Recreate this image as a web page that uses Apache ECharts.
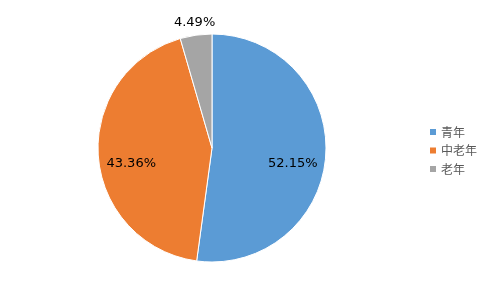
<!DOCTYPE html>
<html>
<head>
<meta charset="utf-8">
<script src="https://cdn.jsdelivr.net/npm/echarts@6/dist/echarts.min.js"></script>
<style>html,body{margin:0;padding:0;background:#fff;}#c{width:489px;height:297px;}</style>
</head>
<body>
<div id="c"></div>
<script>
const categories = ['青年', '中老年', '老年'];
const values = [52.15, 43.36, 4.49];
const colors = ['#5B9BD5', '#ED7D31', '#A5A5A5'];

const chart = echarts.init(document.getElementById('c'), null, {renderer: 'canvas'});
const mainData = categories.map((n, i) => ({name: n, value: values[i], itemStyle: {color: colors[i]}}));
const fmt = p => p.value.toFixed(2) + '%';
const labelFont = {fontFamily: 'DejaVu Sans', fontSize: 13, color: '#000'};
const clear = {color: 'rgba(0,0,0,0)', borderWidth: 0};

chart.setOption({
  animation: false,
  legend: {
    orient: 'vertical',
    left: 425,
    top: 121,
    icon: 'rect',
    itemWidth: 6,
    itemHeight: 6,
    itemGap: 6.5,
    itemStyle: {borderWidth: 0},
    textStyle: {fontFamily: 'Noto Sans CJK SC', fontSize: 12, lineHeight: 12, color: '#595959'},
    data: categories
  },
  series: [
    {
      type: 'pie',
      center: [212, 148],
      radius: 114,
      startAngle: 90,
      clockwise: true,
      silent: true,
      label: {show: false},
      labelLine: {show: false},
      itemStyle: {borderColor: '#fff', borderWidth: 1},
      data: mainData
    },
    {
      type: 'pie',
      center: [212, 148],
      radius: [60, 96],
      startAngle: 90,
      clockwise: true,
      silent: true,
      legendHoverLink: false,
      labelLine: {show: false},
      itemStyle: clear,
      data: categories.map((n, i) => ({
        name: n, value: values[i], itemStyle: clear,
        label: {show: i < 2, position: 'inside', formatter: fmt, offset: [0, 10], ...labelFont}
      }))
    },
    {
      type: 'pie',
      center: [212, 148],
      radius: [120, 136],
      startAngle: 90,
      clockwise: true,
      silent: true,
      legendHoverLink: false,
      labelLine: {show: false},
      itemStyle: clear,
      data: categories.map((n, i) => ({
        name: n, value: values[i], itemStyle: clear,
        label: {show: i === 2, position: 'inside', formatter: fmt, offset: [1, 4], ...labelFont}
      }))
    }
  ]
});
</script>
</body>
</html>
